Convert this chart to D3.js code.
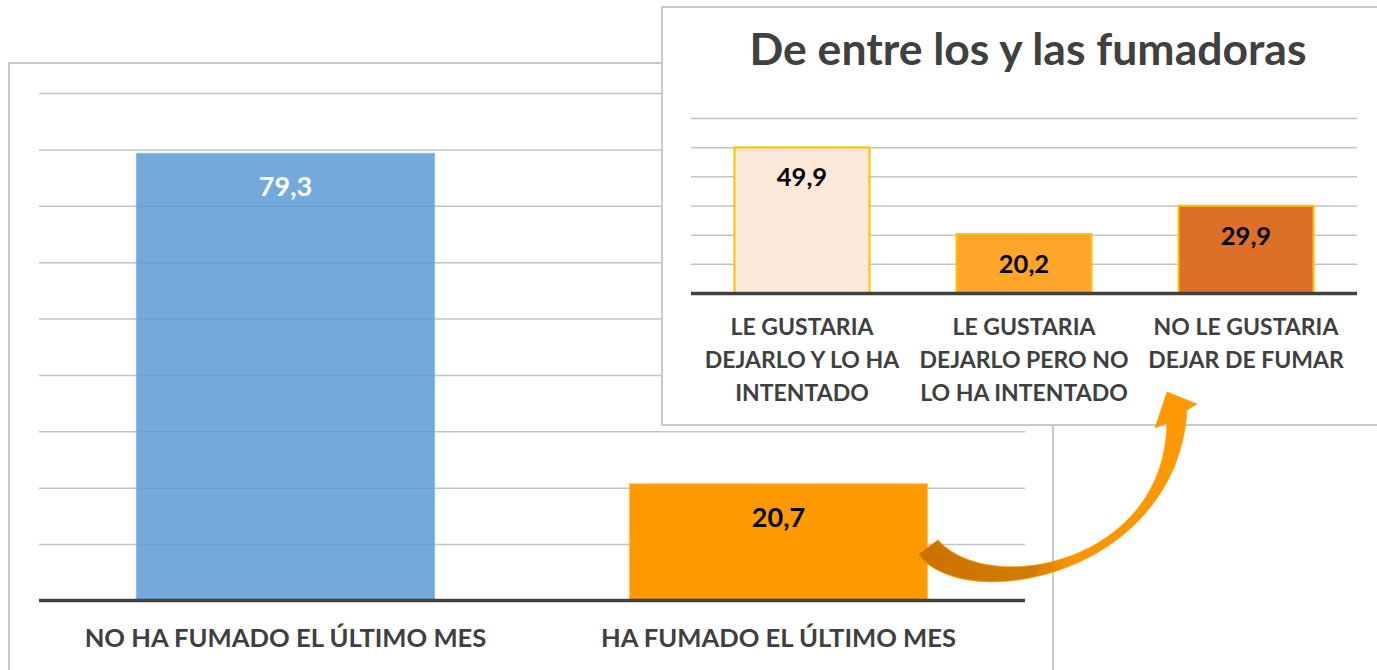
<!DOCTYPE html>
<html>
<head>
<meta charset="utf-8">
<script src="https://cdn.jsdelivr.net/npm/d3@7"></script>
<style>
  html, body { margin: 0; padding: 0; background: #fff; }
  svg { display: block; font-family: Lato, "Open Sans", sans-serif; }
</style>
</head>
<body>
<svg id="chart" width="1377" height="670"></svg>
<script>
// datos del gráfico principal
const mainCategories = ["NO HA FUMADO EL ÚLTIMO MES", "HA FUMADO EL ÚLTIMO MES"];
const mainValues = [79.3, 20.7];
const mainTicks = [0, 10, 20, 30, 40, 50, 60, 70, 80, 90];

// datos del recuadro (fumadores)
const insetTitle = "De entre los y las fumadoras";
const insetCategories = [
  ["LE GUSTARIA", "DEJARLO Y LO HA", "INTENTADO"],
  ["LE GUSTARIA", "DEJARLO PERO NO", "LO HA INTENTADO"],
  ["NO LE GUSTARIA", "DEJAR DE FUMAR"]
];
const insetValues = [49.9, 20.2, 29.9];
const insetTicks = [0, 10, 20, 30, 40, 50, 60];

const es = d3.formatLocale({ decimal: ",", thousands: ".", grouping: [3], currency: ["", " €"] });
const fmt = es.format(".1f");

const svg = d3.select("#chart");

const defs = svg.append("defs");
const grad = defs.append("linearGradient")
  .attr("id", "arrowGrad")
  .attr("gradientUnits", "userSpaceOnUse")
  .attr("x1", 919).attr("y1", 0).attr("x2", 1190).attr("y2", 0);
grad.append("stop").attr("offset", "0%").attr("stop-color", "#c97400");
grad.append("stop").attr("offset", "42%").attr("stop-color", "#d27b00");
grad.append("stop").attr("offset", "55%").attr("stop-color", "#f79400");
grad.append("stop").attr("offset", "100%").attr("stop-color", "#ff9900");

// ---------- gráfico principal ----------
svg.append("rect")
  .attr("x", 9).attr("y", 63).attr("width", 1044).attr("height", 700)
  .attr("fill", "#fff").attr("stroke", "#c9c9c9").attr("stroke-width", 2);

const xMain = d3.scaleBand().domain(mainCategories).range([39, 1025])
  .paddingInner(0.395).paddingOuter(0.1975);
const yMain = d3.scaleLinear().domain([0, 90]).range([600.5, 93]);

const mainGrid = svg.append("g")
  .attr("transform", "translate(39,0)")
  .call(d3.axisLeft(yMain).tickValues(mainTicks.slice(1)).tickSize(-986).tickFormat(""));
mainGrid.select(".domain").remove();
mainGrid.selectAll("line").attr("stroke", "#c4c4c4").attr("stroke-width", 1.5);

const mainColors = ["#5b9bd5", "#ff9900"];
const mainStroke = ["#8dbbe6", "#ffbf66"];
const mainOpacity = [0.85, 1];
svg.append("g").selectAll("rect")
  .data(mainValues)
  .join("rect")
  .attr("x", (d, i) => xMain(mainCategories[i]))
  .attr("y", d => yMain(d))
  .attr("width", xMain.bandwidth())
  .attr("height", d => yMain(0) - yMain(d))
  .attr("fill", (d, i) => mainColors[i])
  .attr("fill-opacity", (d, i) => mainOpacity[i])
  .attr("stroke", (d, i) => mainStroke[i])
  .attr("stroke-width", 1);

svg.append("line")
  .attr("x1", 39).attr("x2", 1025)
  .attr("y1", yMain(0)).attr("y2", yMain(0))
  .attr("stroke", "#404040").attr("stroke-width", 3.5);

svg.append("g").selectAll("text")
  .data(mainValues)
  .join("text")
  .attr("x", (d, i) => xMain(mainCategories[i]) + xMain.bandwidth() / 2)
  .attr("y", d => yMain(d) + 43)
  .attr("text-anchor", "middle")
  .attr("font-size", 27).attr("font-weight", 700)
  .attr("fill", (d, i) => i === 0 ? "#ffffff" : "#000000")
  .text(d => fmt(d));

svg.append("g").selectAll("text")
  .data(mainCategories)
  .join("text")
  .attr("x", d => xMain(d) + xMain.bandwidth() / 2)
  .attr("y", 647)
  .attr("text-anchor", "middle")
  .attr("font-size", 25.6).attr("font-weight", 700)
  .attr("fill", "#404040")
  .text(d => d);

// ---------- recuadro ----------
svg.append("rect")
  .attr("x", 662).attr("y", 7).attr("width", 800).attr("height", 418)
  .attr("fill", "#fff").attr("stroke", "#c9c9c9").attr("stroke-width", 2);

const insetLabels = insetCategories.map(d => d.join(" "));
const xIn = d3.scaleBand().domain(insetLabels).range([691, 1357])
  .paddingInner(0.392).paddingOuter(0.196);
const yIn = d3.scaleLinear().domain([0, 60]).range([293, 118]);

svg.append("text")
  .attr("x", 1028).attr("y", 65)
  .attr("text-anchor", "middle")
  .attr("font-size", 44.5).attr("font-weight", 700)
  .attr("fill", "#404040")
  .text(insetTitle);

const inGrid = svg.append("g")
  .attr("transform", "translate(691,0)")
  .call(d3.axisLeft(yIn).tickValues(insetTicks.slice(1)).tickSize(-666).tickFormat(""));
inGrid.select(".domain").remove();
inGrid.selectAll("line").attr("stroke", "#c4c4c4").attr("stroke-width", 1.5);

const insetColors = ["#fde9d9", "#fda62a", "#dd7028"];
svg.append("g").selectAll("rect")
  .data(insetValues)
  .join("rect")
  .attr("x", (d, i) => xIn(insetLabels[i]))
  .attr("y", d => yIn(d))
  .attr("width", xIn.bandwidth())
  .attr("height", d => yIn(0) - yIn(d))
  .attr("fill", (d, i) => insetColors[i])
  .attr("stroke", "#ffc000").attr("stroke-width", 2);

svg.append("line")
  .attr("x1", 691).attr("x2", 1357)
  .attr("y1", yIn(0) + 0.5).attr("y2", yIn(0) + 0.5)
  .attr("stroke", "#404040").attr("stroke-width", 3.5);

svg.append("g").selectAll("text")
  .data(insetValues)
  .join("text")
  .attr("x", (d, i) => xIn(insetLabels[i]) + xIn.bandwidth() / 2)
  .attr("y", d => yIn(d) + 39)
  .attr("text-anchor", "middle")
  .attr("font-size", 25.5).attr("font-weight", 700)
  .attr("fill", "#000")
  .text(d => fmt(d));

const catG = svg.append("g").selectAll("text")
  .data(insetCategories)
  .join("text")
  .attr("text-anchor", "middle")
  .attr("font-size", 23).attr("font-weight", 700)
  .attr("fill", "#404040");
catG.selectAll("tspan")
  .data((d, i) => d.map(line => ({ line, i })))
  .join("tspan")
  .attr("x", d => xIn(insetLabels[d.i]) + xIn.bandwidth() / 2)
  .attr("y", (d, j) => 335 + j * 33)
  .text(d => d.line);

// ---------- flecha curva ----------
const p = d3.path();
p.moveTo(918, 554);
p.bezierCurveTo(965, 617, 1177, 575, 1187, 410);
p.lineTo(1197, 404);
p.lineTo(1167, 392);
p.lineTo(1155, 428);
p.lineTo(1167, 423);
p.bezierCurveTo(1165, 563, 990, 598, 938, 540);
p.closePath();
svg.append("path")
  .attr("d", p.toString())
  .attr("fill", "url(#arrowGrad)")
  .attr("stroke", "#ff9e1a").attr("stroke-width", 0.8);
</script>
</body>
</html>
